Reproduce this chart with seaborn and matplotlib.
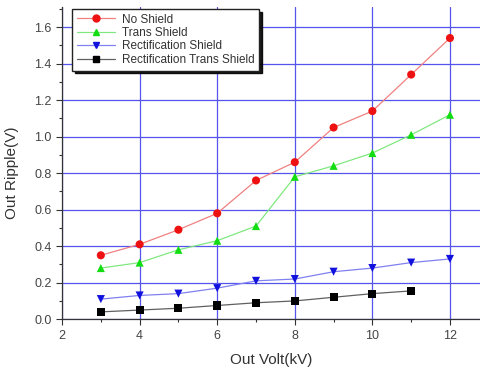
import numpy as np
import pandas as pd
import matplotlib
matplotlib.use("Agg")
import matplotlib.pyplot as plt
from matplotlib.lines import Line2D
from matplotlib.ticker import MultipleLocator
import seaborn as sns

volts = [3, 4, 5, 6, 7, 8, 9, 10, 11, 12]
no_shield = [0.35, 0.41, 0.49, 0.58, 0.76, 0.86, 1.05, 1.14, 1.34, 1.54]
trans_shield = [0.28, 0.31, 0.38, 0.43, 0.51, 0.78, 0.84, 0.91, 1.01, 1.12]
rect_shield = [0.11, 0.13, 0.14, 0.17, 0.21, 0.22, 0.26, 0.28, 0.31, 0.33]
volts_rt = [3, 4, 5, 6, 7, 8, 9, 10, 11]
rect_trans_shield = [0.04, 0.05, 0.06, 0.075, 0.09, 0.10, 0.12, 0.14, 0.155]

names = ["No Shield", "Trans Shield", "Rectification Shield", "Rectification Trans Shield"]

frames = []
for name, xs, ys in [(names[0], volts, no_shield), (names[1], volts, trans_shield),
                     (names[2], volts, rect_shield), (names[3], volts_rt, rect_trans_shield)]:
    frames.append(pd.DataFrame({"volt": xs, "ripple": ys, "series": name}))
df = pd.concat(frames, ignore_index=True)

sns.set_style("white")
plt.rcParams["font.family"] = ["Liberation Sans", "DejaVu Sans"]

line_colors = {names[0]: "#f08080", names[1]: "#80e880", names[2]: "#8080f0", names[3]: "#606060"}
mark_colors = {names[0]: "#ee1111", names[1]: "#11dd11", names[2]: "#1111dd", names[3]: "#000000"}
markers = {names[0]: "o", names[1]: "^", names[2]: "v", names[3]: "s"}

fig = plt.figure(figsize=(4.81, 3.69), dpi=100)
ax = fig.add_axes([0.129, 0.135, 0.871, 0.846])

sns.lineplot(data=df, x="volt", y="ripple", hue="series", palette=line_colors,
             ax=ax, legend=False, linewidth=0.9, zorder=3)
sns.scatterplot(data=df, x="volt", y="ripple", hue="series", style="series",
                palette=mark_colors, markers=markers, s=34, edgecolor=None,
                linewidth=0, ax=ax, legend=False, zorder=4)

ax.set_xlim(2, 12.8)
ax.set_ylim(0, 1.71)
ax.xaxis.set_major_locator(MultipleLocator(2))
ax.xaxis.set_minor_locator(MultipleLocator(1))
ax.yaxis.set_major_locator(MultipleLocator(0.2))
ax.yaxis.set_minor_locator(MultipleLocator(0.1))
ax.yaxis.set_major_formatter(matplotlib.ticker.FormatStrFormatter("%.1f"))
ax.grid(True, which="major", color="#5555ee", linewidth=0.9, zorder=1)
ax.set_axisbelow(True)

for s in ["top", "right"]:
    ax.spines[s].set_visible(False)
for s in ["left", "bottom"]:
    ax.spines[s].set_color("#333333")
    ax.spines[s].set_linewidth(0.9)

tc = "#444444"
ax.tick_params(which="major", direction="out", length=4, width=0.8, color="#333333",
               labelsize=9, labelcolor=tc, left=True, bottom=True)
ax.tick_params(which="minor", direction="out", length=2, width=0.8, color="#333333",
               left=True, bottom=True)
ax.set_xlabel("Out Volt(kV)", fontsize=11, color="#333333", labelpad=8)
ax.set_ylabel("Out Ripple(V)", fontsize=11, color="#333333")
ax.yaxis.set_label_coords(-0.103, 0.47)

handles = [Line2D([0], [0], color=line_colors[n], marker=markers[n], markerfacecolor=mark_colors[n],
                  markeredgecolor=mark_colors[n], markersize=5, linewidth=0.9) for n in names]
leg = ax.legend(handles, names, loc="upper left", bbox_to_anchor=(0.024, 0.994),
                borderaxespad=0, fontsize=8.5, frameon=True, fancybox=False,
                shadow={"color": "black", "alpha": 0.9},
                handlelength=3.2, borderpad=0.4, labelspacing=0.12, handletextpad=0.6)
leg.get_frame().set_edgecolor("#222222")
leg.get_frame().set_linewidth(1.0)
for t in leg.get_texts():
    t.set_color("#333333")

fig.savefig("out.png", dpi=100)
